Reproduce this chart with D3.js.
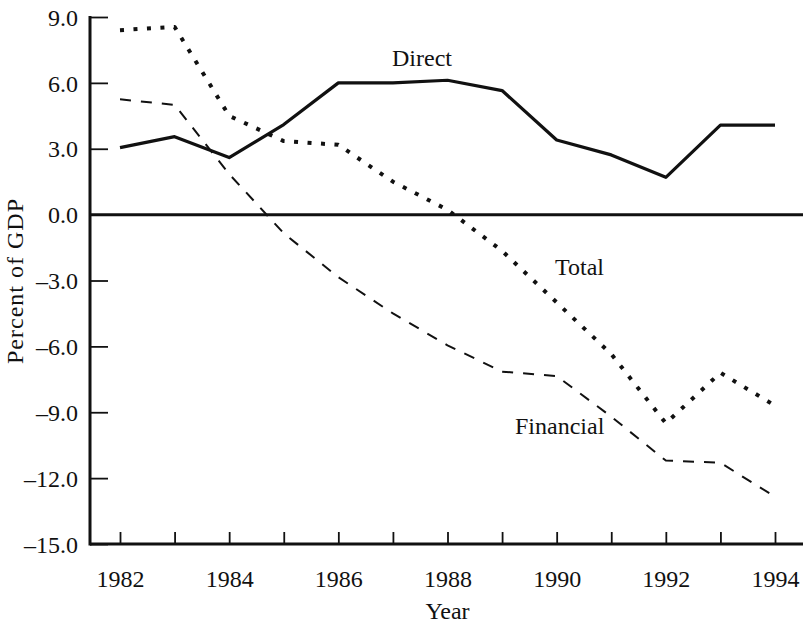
<!DOCTYPE html>
<html>
<head>
<meta charset="utf-8">
<script src="https://cdn.jsdelivr.net/npm/d3@7"></script>
<style>
  body { margin: 0; background: #fff; }
  svg { display: block; }
</style>
</head>
<body>
<svg id="chart"></svg>
<script>
// data, percent of GDP
const years = [1982, 1983, 1984, 1985, 1986, 1987, 1988, 1989, 1990, 1991, 1992, 1993, 1994];
const direct = [3.05, 3.55, 2.6, 4.1, 6.0, 6.0, 6.12, 5.65, 3.4, 2.72, 1.7, 4.08, 4.08];
const total = [8.4, 8.55, 4.5, 3.35, 3.18, 1.5, 0.22, -1.65, -4.0, -6.35, -9.5, -7.2, -8.7];
const financial = [5.25, 5.0, 1.85, -0.85, -2.85, -4.5, -5.95, -7.15, -7.35, -9.2, -11.2, -11.3, -12.85];
const yTicks = [9, 6, 3, 0, -3, -6, -9, -12, -15];
const xLabels = [1982, 1984, 1986, 1988, 1990, 1992, 1994];

const series = [
  { name: 'Direct', values: direct, width: 3.2, dash: null, label: [392, 66] },
  { name: 'Total', values: total, width: 4, dash: '4,9.5', label: [555, 275] },
  { name: 'Financial', values: financial, width: 2, dash: '11,10', label: [515, 434] },
];

const serif = "'Liberation Serif', 'DejaVu Serif', serif";
const W = 803, H = 626;
const plot = { left: 90, right: 803, top: 17, bottom: 544 };

const svg = d3.select('#chart')
  .attr('width', W).attr('height', H)
  .attr('font-family', serif);

const x = d3.scaleLinear().domain([1982, 1994]).range([120, 775]);
const y = d3.scaleLinear().domain([-15, 9]).range([plot.bottom, plot.top]);

const fmt = d => (d < 0 ? '\u2013' : '') + Math.abs(d).toFixed(1);

// d3 axis puts sans-serif on its group, so restyle afterwards
function styleAxis(g) {
  g.attr('font-family', serif).attr('font-size', 24);
  g.select('.domain').remove();
  g.selectAll('.tick line').attr('stroke', '#111').attr('stroke-width', 1.8);
  g.selectAll('.tick text').attr('fill', '#111');
}

// y axis, ticks point inward
svg.append('g')
  .attr('transform', `translate(${plot.left},0)`)
  .call(d3.axisLeft(y).tickValues(yTicks).tickFormat(fmt).tickSize(-18).tickSizeOuter(0).tickPadding(12))
  .call(styleAxis)
  .call(g => g.selectAll('text').attr('dy', '0.34em'));

// x axis, every year ticked, even years labelled
svg.append('g')
  .attr('transform', `translate(0,${plot.bottom})`)
  .call(d3.axisBottom(x).tickValues(years)
    .tickFormat(d => xLabels.includes(d) ? String(d) : '')
    .tickSize(-12).tickSizeOuter(0).tickPadding(26))
  .call(styleAxis);

// frame lines
svg.append('line')
  .attr('x1', plot.left).attr('x2', plot.left)
  .attr('y1', y(9) - 1).attr('y2', plot.bottom + 1.5)
  .attr('stroke', '#111').attr('stroke-width', 3);
svg.append('line')
  .attr('x1', plot.left).attr('x2', plot.right)
  .attr('y1', plot.bottom).attr('y2', plot.bottom)
  .attr('stroke', '#111').attr('stroke-width', 3);
svg.append('line')
  .attr('x1', plot.left).attr('x2', plot.right)
  .attr('y1', y(0)).attr('y2', y(0))
  .attr('stroke', '#111').attr('stroke-width', 3);

const line = d3.line()
  .x((d, i) => x(years[i]))
  .y(d => y(d));

svg.selectAll('path.series')
  .data(series)
  .enter()
  .append('path')
  .attr('class', 'series')
  .attr('d', d => line(d.values))
  .attr('fill', 'none')
  .attr('stroke', '#111')
  .attr('stroke-width', d => d.width)
  .attr('stroke-dasharray', d => d.dash)
  .attr('stroke-linejoin', 'round');

svg.selectAll('text.lbl')
  .data(series)
  .enter()
  .append('text')
  .attr('class', 'lbl')
  .attr('x', d => d.label[0])
  .attr('y', d => d.label[1])
  .attr('font-size', 24)
  .attr('fill', '#111')
  .text(d => d.name);

// axis titles
svg.append('text')
  .attr('x', (plot.left + plot.right) / 2 + 1)
  .attr('y', 619)
  .attr('text-anchor', 'middle')
  .attr('font-size', 24)
  .attr('fill', '#111')
  .text('Year');

svg.append('text')
  .attr('transform', 'translate(23,281) rotate(-90)')
  .attr('text-anchor', 'middle')
  .attr('font-size', 24)
  .attr('letter-spacing', 1)
  .attr('fill', '#111')
  .text('Percent of GDP');
</script>
</body>
</html>
